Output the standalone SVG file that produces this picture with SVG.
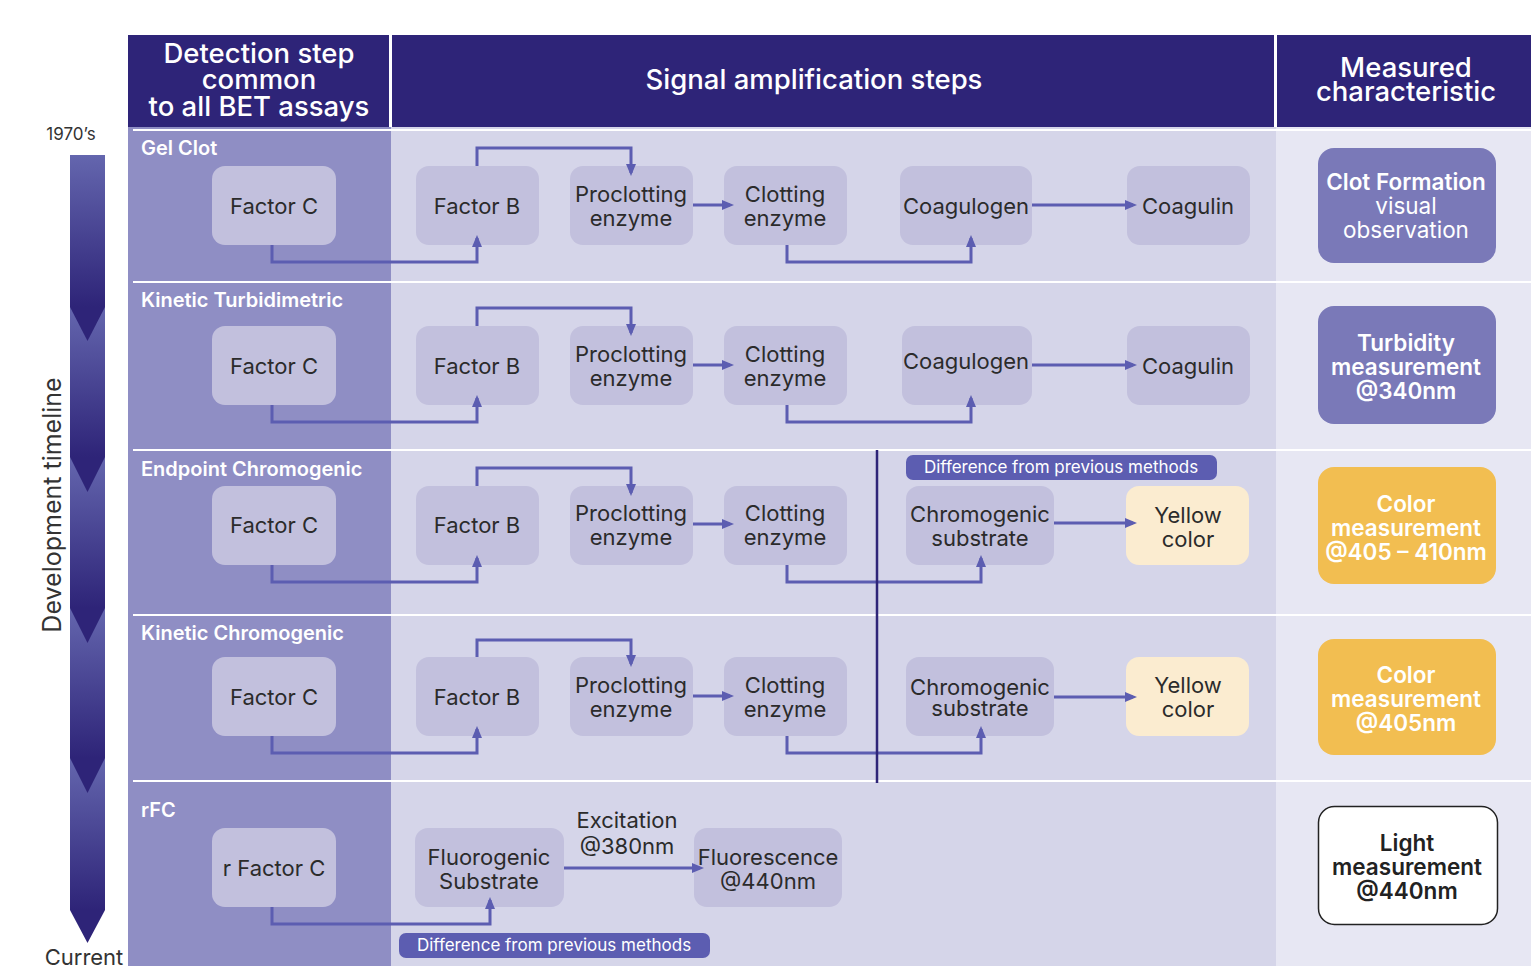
<svg xmlns="http://www.w3.org/2000/svg" width="1531" height="970" viewBox="0 0 1531 970">
<defs>
<linearGradient id="seg" x1="0" y1="0" x2="0" y2="1">
<stop offset="0" stop-color="#6466ae"/>
<stop offset="1" stop-color="#2e2478"/>
</linearGradient>
<path id="ah" d="M-12,-5 L0,0 L-12,5 Z" fill="#5c5db1"/>
</defs>
<style>
text{font-family:Inter,"Open Sans","Liberation Sans",sans-serif;dominant-baseline:central;text-anchor:middle}
.hd{fill:#fff;font-size:27.5px;font-weight:500}
.rl{fill:#fff;font-size:20px;font-weight:600;text-anchor:start}
.nd{fill:#c2c0dd}
.nt{fill:#2b2b2b;font-size:22px}
.yl{fill:#fbecd0}
.cn{fill:none;stroke:#5c5db1;stroke-width:3}
.sep{stroke:#fff;stroke-width:2}
.mt{fill:#fff;font-size:22.5px;font-weight:600}
.mr{fill:#fff;font-size:22.5px;font-weight:400}
.df{fill:#5c5db1}
.dt{fill:#fff;font-size:17px}
.tl{fill:#333;font-size:17px}
</style>
<rect width="1531" height="970" fill="#fff"/>
<!-- header -->
<g id="header">
<rect x="128" y="35" width="1403" height="92" fill="#2e2478"/>
<rect x="389" y="35" width="3" height="92" fill="#fff"/>
<rect x="1274" y="35" width="3" height="92" fill="#fff"/>
<text class="hd" x="259" y="53">Detection step</text>
<text class="hd" x="259" y="79">common</text>
<text class="hd" x="259" y="106">to all BET assays</text>
<text class="hd" x="814" y="79">Signal amplification steps</text>
<text class="hd" x="1406" y="67">Measured</text>
<text class="hd" x="1406" y="91">characteristic</text>
</g>
<!-- column backgrounds -->
<g id="columns">
<rect x="128" y="127" width="263" height="839" fill="#8f8ec4"/>
<rect x="391" y="127" width="885" height="839" fill="#d5d5e9"/>
<rect x="1276" y="127" width="255" height="839" fill="#e7e7f3"/>
<line class="sep" x1="133" y1="130" x2="1531" y2="130"/>
<line class="sep" x1="133" y1="282" x2="1531" y2="282"/>
<line class="sep" x1="133" y1="450" x2="1531" y2="450"/>
<line class="sep" x1="133" y1="615" x2="1531" y2="615"/>
<line class="sep" x1="133" y1="781" x2="1531" y2="781"/>
</g>
<!-- timeline -->
<g id="timeline">
<text class="tl" x="71" y="134">1970’s</text>
<rect x="70" y="155" width="35" height="152" fill="url(#seg)"/>
<rect x="70" y="307" width="35" height="150" fill="url(#seg)"/>
<rect x="70" y="457" width="35" height="151" fill="url(#seg)"/>
<rect x="70" y="608" width="35" height="150" fill="url(#seg)"/>
<rect x="70" y="758" width="35" height="152" fill="url(#seg)"/>
<path d="M70,307 L105,307 L87.5,341 z" fill="#2e2478"/>
<path d="M70,457 L105,457 L87.5,492 z" fill="#2e2478"/>
<path d="M70,608 L105,608 L87.5,643 z" fill="#2e2478"/>
<path d="M70,758 L105,758 L87.5,793 z" fill="#2e2478"/>
<path d="M70,910 L105,910 L87.5,943 z" fill="#2e2478"/>
<text x="52" y="505" transform="rotate(-90 52 505)" style="fill:#333;font-size:25px">Development timeline</text>
<text x="84" y="957" style="fill:#333;font-size:22px">Current</text>
</g>
<!-- row labels -->
<g id="row-labels">
<text class="rl" x="141" y="148">Gel Clot</text>
<text class="rl" x="141" y="300">Kinetic Turbidimetric</text>
<text class="rl" x="141" y="469">Endpoint Chromogenic</text>
<text class="rl" x="141" y="633">Kinetic Chromogenic</text>
<text class="rl" x="141" y="810">rFC</text>
</g>
<!-- Row 1 Gel Clot -->
<g id="r1-factorC"><rect class="nd" x="212" y="166" width="124" height="79" rx="13"/><text class="nt" x="274" y="206">Factor C</text></g>
<g id="r1-factorB"><rect class="nd" x="416" y="166" width="123" height="79" rx="13"/><text class="nt" x="477" y="206">Factor B</text></g>
<g id="r1-proclotting"><rect class="nd" x="570" y="166" width="123" height="79" rx="13"/><text class="nt" x="631" y="194">Proclotting</text><text class="nt" x="631" y="218">enzyme</text></g>
<g id="r1-clotting"><rect class="nd" x="724" y="166" width="123" height="79" rx="13"/><text class="nt" x="785" y="194">Clotting</text><text class="nt" x="785" y="218">enzyme</text></g>
<g id="r1-coagulogen"><rect class="nd" x="900" y="166" width="132" height="79" rx="13"/><text class="nt" x="966" y="206">Coagulogen</text></g>
<g id="r1-coagulin"><rect class="nd" x="1127" y="166" width="123" height="79" rx="13"/><text class="nt" x="1188" y="206">Coagulin</text></g>
<!-- Row 2 Kinetic Turbidimetric -->
<g id="r2-factorC"><rect class="nd" x="212" y="326" width="124" height="79" rx="13"/><text class="nt" x="274" y="366">Factor C</text></g>
<g id="r2-factorB"><rect class="nd" x="416" y="326" width="123" height="79" rx="13"/><text class="nt" x="477" y="366">Factor B</text></g>
<g id="r2-proclotting"><rect class="nd" x="570" y="326" width="123" height="79" rx="13"/><text class="nt" x="631" y="354">Proclotting</text><text class="nt" x="631" y="378">enzyme</text></g>
<g id="r2-clotting"><rect class="nd" x="724" y="326" width="123" height="79" rx="13"/><text class="nt" x="785" y="354">Clotting</text><text class="nt" x="785" y="378">enzyme</text></g>
<g id="r2-coagulogen"><rect class="nd" x="902" y="326" width="130" height="79" rx="13"/><text class="nt" x="966" y="361">Coagulogen</text></g>
<g id="r2-coagulin"><rect class="nd" x="1127" y="326" width="123" height="79" rx="13"/><text class="nt" x="1188" y="366">Coagulin</text></g>
<!-- Row 3 Endpoint Chromogenic -->
<g id="r3-factorC"><rect class="nd" x="212" y="486" width="124" height="79" rx="13"/><text class="nt" x="274" y="525">Factor C</text></g>
<g id="r3-factorB"><rect class="nd" x="416" y="486" width="123" height="79" rx="13"/><text class="nt" x="477" y="525">Factor B</text></g>
<g id="r3-proclotting"><rect class="nd" x="570" y="486" width="123" height="79" rx="13"/><text class="nt" x="631" y="513">Proclotting</text><text class="nt" x="631" y="537">enzyme</text></g>
<g id="r3-clotting"><rect class="nd" x="724" y="486" width="123" height="79" rx="13"/><text class="nt" x="785" y="513">Clotting</text><text class="nt" x="785" y="537">enzyme</text></g>
<g id="r3-chromogenic"><rect class="nd" x="906" y="486" width="148" height="79" rx="13"/><text class="nt" x="980" y="514">Chromogenic</text><text class="nt" x="980" y="538">substrate</text></g>
<g id="r3-yellow"><rect class="yl" x="1126" y="486" width="123" height="79" rx="13"/><text class="nt" x="1188" y="515">Yellow</text><text class="nt" x="1188" y="539">color</text></g>
<g id="r3-diff"><rect class="df" x="906" y="455" width="311" height="25" rx="7"/><text class="dt" x="1061" y="467">Difference from previous methods</text></g>
<!-- Row 4 Kinetic Chromogenic -->
<g id="r4-factorC"><rect class="nd" x="212" y="657" width="124" height="79" rx="13"/><text class="nt" x="274" y="697">Factor C</text></g>
<g id="r4-factorB"><rect class="nd" x="416" y="657" width="123" height="79" rx="13"/><text class="nt" x="477" y="697">Factor B</text></g>
<g id="r4-proclotting"><rect class="nd" x="570" y="657" width="123" height="79" rx="13"/><text class="nt" x="631" y="685">Proclotting</text><text class="nt" x="631" y="709">enzyme</text></g>
<g id="r4-clotting"><rect class="nd" x="724" y="657" width="123" height="79" rx="13"/><text class="nt" x="785" y="685">Clotting</text><text class="nt" x="785" y="709">enzyme</text></g>
<g id="r4-chromogenic"><rect class="nd" x="906" y="657" width="148" height="79" rx="13"/><text class="nt" x="980" y="687">Chromogenic</text><text class="nt" x="980" y="708">substrate</text></g>
<g id="r4-yellow"><rect class="yl" x="1126" y="657" width="123" height="79" rx="13"/><text class="nt" x="1188" y="685">Yellow</text><text class="nt" x="1188" y="709">color</text></g>
<!-- Row 5 rFC -->
<g id="r5-rfactorC"><rect class="nd" x="212" y="828" width="124" height="79" rx="13"/><text class="nt" x="274" y="868">r Factor C</text></g>
<g id="r5-fluorogenic"><rect class="nd" x="415" y="828" width="149" height="79" rx="13"/><text class="nt" x="489" y="857">Fluorogenic</text><text class="nt" x="489" y="881">Substrate</text></g>
<g id="r5-fluorescence"><rect class="nd" x="694" y="828" width="148" height="79" rx="13"/><text class="nt" x="768" y="857">Fluorescence</text><text class="nt" x="768" y="881">@440nm</text></g>
<g id="r5-excitation"><text class="nt" x="627" y="820">Excitation</text><text class="nt" x="627" y="846">@380nm</text></g>
<g id="r5-diff"><rect class="df" x="399" y="933" width="311" height="25" rx="7"/><text class="dt" x="554" y="945">Difference from previous methods</text></g>
<!-- connectors -->
<g id="connectors">
<path class="cn" d="M272,245 V262 H477 V238"/>
<path class="cn" d="M477,166 V148 H631 V173"/>
<path class="cn" d="M693,205 H730"/>
<path class="cn" d="M787,245 V262 H971 V238"/>
<path class="cn" d="M1032,205 H1133"/>
<path class="cn" d="M272,405 V422 H477 V398"/>
<path class="cn" d="M477,326 V308 H631 V333"/>
<path class="cn" d="M693,365 H730"/>
<path class="cn" d="M787,405 V422 H971 V398"/>
<path class="cn" d="M1032,365 H1133"/>
<path class="cn" d="M272,565 V582 H477 V558"/>
<path class="cn" d="M477,486 V468 H631 V493"/>
<path class="cn" d="M693,524 H730"/>
<path class="cn" d="M787,565 V582 H981 V558"/>
<path class="cn" d="M1054,523 H1133"/>
<path class="cn" d="M272,736 V753 H477 V729"/>
<path class="cn" d="M477,657 V640 H631 V664"/>
<path class="cn" d="M693,696 H730"/>
<path class="cn" d="M787,736 V753 H981 V729"/>
<path class="cn" d="M1054,697 H1133"/>
<path class="cn" d="M272,907 V924 H490 V900"/>
<path class="cn" d="M564,868 H700"/>
<use href="#ah" transform="translate(734,205)"/>
<use href="#ah" transform="translate(1137,205)"/>
<use href="#ah" transform="translate(734,365)"/>
<use href="#ah" transform="translate(1137,365)"/>
<use href="#ah" transform="translate(734,524)"/>
<use href="#ah" transform="translate(1137,523)"/>
<use href="#ah" transform="translate(734,696)"/>
<use href="#ah" transform="translate(1137,697)"/>
<use href="#ah" transform="translate(704,868)"/>
<use href="#ah" transform="translate(477,235) rotate(-90)"/>
<use href="#ah" transform="translate(971,235) rotate(-90)"/>
<use href="#ah" transform="translate(477,395) rotate(-90)"/>
<use href="#ah" transform="translate(971,395) rotate(-90)"/>
<use href="#ah" transform="translate(477,555) rotate(-90)"/>
<use href="#ah" transform="translate(981,555) rotate(-90)"/>
<use href="#ah" transform="translate(477,726) rotate(-90)"/>
<use href="#ah" transform="translate(981,726) rotate(-90)"/>
<use href="#ah" transform="translate(490,897) rotate(-90)"/>
<use href="#ah" transform="translate(631,176) rotate(90)"/>
<use href="#ah" transform="translate(631,336) rotate(90)"/>
<use href="#ah" transform="translate(631,496) rotate(90)"/>
<use href="#ah" transform="translate(631,667) rotate(90)"/>
<line x1="877" y1="450" x2="877" y2="783" stroke="#2e2478" stroke-width="2.5"/>
</g>
<!-- Measured characteristic -->
<g id="m1"><rect x="1318" y="148" width="178" height="115" rx="16" fill="#7a79b8"/><text class="mt" x="1406" y="181">Clot Formation</text><text class="mr" x="1406" y="205">visual</text><text class="mr" x="1406" y="229">observation</text></g>
<g id="m2"><rect x="1318" y="306" width="178" height="118" rx="16" fill="#7a79b8"/><text class="mt" x="1406" y="342">Turbidity</text><text class="mt" x="1406" y="366">measurement</text><text class="mt" x="1406" y="390">@340nm</text></g>
<g id="m3"><rect x="1318" y="467" width="178" height="117" rx="16" fill="#f2be51"/><text class="mt" x="1406" y="503">Color</text><text class="mt" x="1406" y="527">measurement</text><text class="mt" x="1406" y="551">@405 – 410nm</text></g>
<g id="m4"><rect x="1318" y="639" width="178" height="116" rx="16" fill="#f2be51"/><text class="mt" x="1406" y="674">Color</text><text class="mt" x="1406" y="698">measurement</text><text class="mt" x="1406" y="722">@405nm</text></g>
<g id="m5"><rect x="1318.5" y="806.5" width="179" height="118" rx="16" fill="#fff" stroke="#222" stroke-width="1.5"/><text class="mt" x="1407" y="842" style="fill:#222">Light</text><text class="mt" x="1407" y="866" style="fill:#222">measurement</text><text class="mt" x="1407" y="890" style="fill:#222">@440nm</text></g>
</svg>
